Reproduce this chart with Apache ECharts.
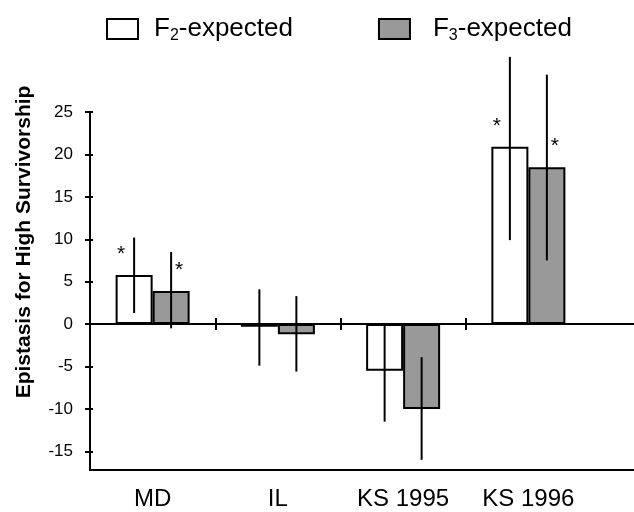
<!DOCTYPE html>
<html>
<head>
<meta charset="utf-8">
<script src="https://cdn.jsdelivr.net/npm/echarts@6/dist/echarts.min.js"></script>
<style>html,body{margin:0;padding:0;background:#fff}#c{width:634px;height:512px}</style>
</head>
<body>
<div id="c"></div>
<script>
var categories = ['MD', 'IL', 'KS 1995', 'KS 1996'];
var f2Values = [5.8, -0.3, -5.5, 20.9];
var f3Values = [3.9, -1.2, -10.0, 18.5];
var f2Low = [1.3, -4.9, -11.5, 9.9];
var f2High = [10.2, 4.1, 0.1, 31.5];
var f3Low = [-0.5, -5.6, -16.0, 7.5];
var f3High = [8.5, 3.3, -3.9, 29.4];
var f2Sig = [true, false, false, true];
var f3Sig = [true, false, false, true];
var yTicks = [-15, -10, -5, 0, 5, 10, 15, 20, 25];
var groupBoundaries = [0.5, 1.5, 2.5];
var yMin = -17.2, yMax = 25;

var FONT = 'Liberation Sans, Arial, sans-serif';
var BAR_W = 37;

function errSeries(name, low, high, offsetSign) {
  var data = low.map(function (l, i) { return [i, l, high[i]]; });
  return {
    type: 'custom',
    name: name + ' err',
    xAxisIndex: 0, yAxisIndex: 0,
    clip: false,
    silent: true,
    z: 5,
    data: data,
    renderItem: function (params, api) {
      var p1 = api.coord([api.value(0), api.value(1)]);
      var p2 = api.coord([api.value(0), api.value(2)]);
      var dx = offsetSign * BAR_W / 2;
      return {
        type: 'line',
        shape: { x1: p1[0] + dx, y1: p1[1], x2: p2[0] + dx, y2: p2[1] },
        style: { stroke: '#000', lineWidth: 2 }
      };
    }
  };
}

var richLegend = {
  n: { fontSize: 26, fontFamily: FONT, color: '#000', lineHeight: 30, verticalAlign: 'middle' },
  s: { fontSize: 16, fontFamily: FONT, color: '#000', lineHeight: 30, verticalAlign: 'bottom' }
};

var chart = echarts.init(document.getElementById('c'), null, { renderer: 'canvas' });
var gridBase = { top: 112, bottom: 42, left: 90 };
chart.setOption({
  animation: false,
  backgroundColor: '#fff',
  textStyle: { fontFamily: FONT },
  legend: {
    top: 11, left: 101,
    itemWidth: 31, itemHeight: 20, itemGap: 85,
    icon: 'rect',
    data: [
      { name: 'F2-expected', textStyle: { padding: [0, 0, 0, 11], rich: richLegend } },
      { name: 'F3-expected', textStyle: { padding: [0, 0, 0, 18], rich: richLegend } }
    ],
    formatter: function (name) {
      var d = name.charAt(1);
      return '{n|F}{s|' + d + '}{n|' + name.slice(2) + '}';
    },
    textStyle: { rich: richLegend }
  },
  grid: [
    Object.assign({ right: 43 }, gridBase),
    Object.assign({ right: 0 }, gridBase),
    Object.assign({ right: 43 }, gridBase)
  ],
  xAxis: [
    { type: 'category', gridIndex: 0, position: 'bottom', data: categories,
      axisLine: { show: false, onZero: false }, axisTick: { show: false },
      axisLabel: { fontSize: 24, color: '#000', margin: 17, fontFamily: FONT } },
    { type: 'value', gridIndex: 0, position: 'top', min: -0.5, max: 3.5,
      axisLine: { show: false, onZero: true },
      axisTick: { show: true, length: 6, customValues: groupBoundaries, lineStyle: { color: '#000', width: 2 } },
      axisLabel: { show: false }, splitLine: { show: false } },
    { type: 'value', gridIndex: 2, position: 'bottom', min: -0.5, max: 3.5,
      axisLine: { show: false, onZero: true },
      axisTick: { show: true, length: 6, customValues: groupBoundaries, lineStyle: { color: '#000', width: 2 } },
      axisLabel: { show: false }, splitLine: { show: false } },
    { type: 'value', gridIndex: 1, position: 'bottom', min: 0, max: 1,
      axisLine: { show: true, onZero: false, lineStyle: { color: '#000', width: 2 } },
      axisTick: { show: false }, axisLabel: { show: false }, splitLine: { show: false } },
    { type: 'value', gridIndex: 1, position: 'top', min: 0, max: 1,
      axisLine: { show: true, onZero: true, lineStyle: { color: '#000', width: 2 } },
      axisTick: { show: false }, axisLabel: { show: false }, splitLine: { show: false } }
  ],
  yAxis: [
    { type: 'value', gridIndex: 0, min: yMin, max: yMax,
      axisLine: { show: true, onZero: false, lineStyle: { color: '#000', width: 2 } },
      axisTick: { show: true, length: 5, customValues: yTicks, lineStyle: { color: '#000', width: 2 } },
      axisLabel: { customValues: yTicks, fontSize: 17, color: '#000', margin: 17, fontFamily: FONT },
      splitLine: { show: false } },
    { type: 'value', gridIndex: 1, min: yMin, max: yMax, show: false, axisLine: { onZero: false } },
    { type: 'value', gridIndex: 2, min: yMin, max: yMax,
      axisLine: { show: false, onZero: false },
      axisTick: { show: true, inside: true, length: 3, customValues: yTicks, lineStyle: { color: '#000', width: 2 } },
      axisLabel: { show: false }, splitLine: { show: false } }
  ],
  graphic: [{
    type: 'text', x: 24, y: 242, rotation: Math.PI / 2,
    style: { text: 'Epistasis for High Survivorship', font: 'bold 21px ' + FONT,
      fill: '#000', textAlign: 'center', textVerticalAlign: 'middle' }
  }],
  series: [
    { type: 'bar', name: 'F2-expected', xAxisIndex: 0, yAxisIndex: 0,
      data: f2Values, barWidth: BAR_W, barGap: '0%', z: 3,
      itemStyle: { color: '#fff', borderColor: '#000', borderWidth: 2 },
      label: { show: true, position: 'top', offset: [-13, -5], fontSize: 21, color: '#000',
        formatter: function (p) { return f2Sig[p.dataIndex] ? '*' : ''; } } },
    { type: 'bar', name: 'F3-expected', xAxisIndex: 0, yAxisIndex: 0,
      data: f3Values, barWidth: BAR_W, barGap: '0%', z: 3,
      itemStyle: { color: '#999999', borderColor: '#000', borderWidth: 2 },
      label: { show: true, position: 'top', offset: [8, -5], fontSize: 21, color: '#000',
        formatter: function (p) { return f3Sig[p.dataIndex] ? '*' : ''; } } },
    errSeries('F2-expected', f2Low, f2High, -1),
    errSeries('F3-expected', f3Low, f3High, 1)
  ]
});
</script>
</body>
</html>
